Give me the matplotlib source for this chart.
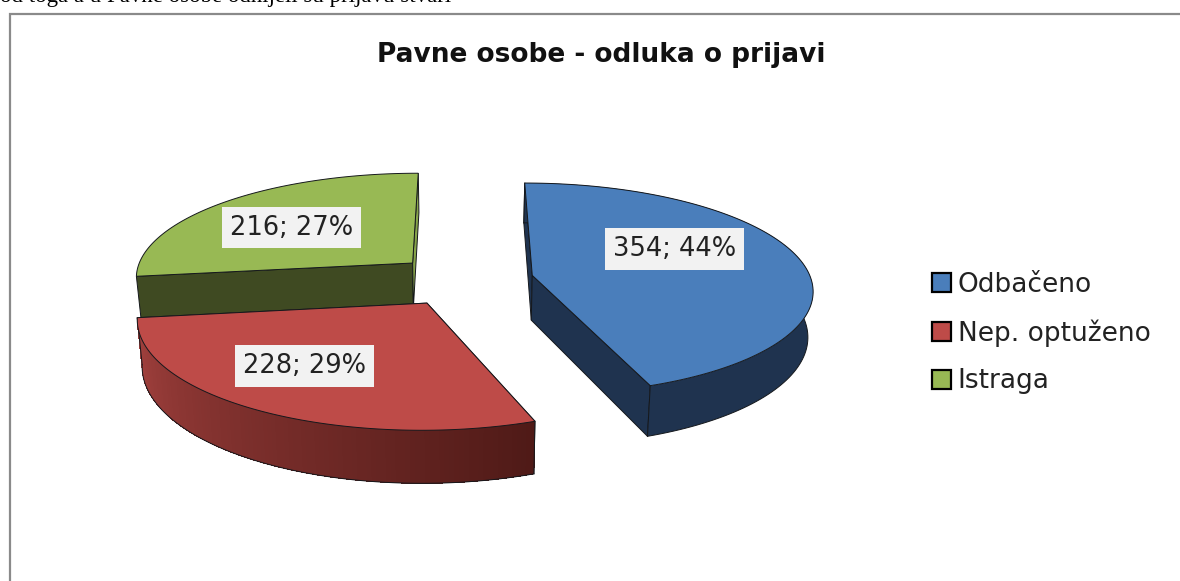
"""Exploded 3D pie: Pavne osobe - odluka o prijavi."""

import matplotlib

matplotlib.use("Agg")
import matplotlib.pyplot as plt
import numpy as np
from matplotlib.collections import PolyCollection
from matplotlib.colors import to_rgb
from matplotlib.patches import Patch, Polygon

categories = ["Odbačeno", "Nep. optuženo", "Istraga"]
values = [354, 228, 216]
percents = [44, 29, 27]
title = "Pavne osobe - odluka o prijavi"
top_text = "od toga a u Pavne osobe odnijeli su prijavu stvari"

top_colors = ["#4a7ebb", "#be4b48", "#98b954"]
wall_colors = ["#1f334f", "#7a2f2d", "#3f4a22"]
start_face_colors = ["#1f334f", "#7a2f2d", "#3f4a22"]
end_face_colors = ["#1f334f", "#7a2f2d", "#86a34a"]
label_centers = [(674.5, 249), (304.5, 366), (291.5, 227.5)]

# projection of the unit disc into figure pixels
VX, VY = 464.0, 280.0
SX, SY = 279.0, 105.0
PERSP = 0.125
EXPLODE = 0.25
DEPTH = 45.0
LINE = "#15181c"


def project(wx, wy, low=False):
    s = 1.0 / (1.0 + PERSP * wy)
    x = SX * wx * s
    y = -SY * wy * s
    if low:
        return VX + x * 0.985, VY + y + DEPTH * s
    return VX + x, VY + y


def slice_points(start, end, low=False, n=120):
    t = np.radians(np.linspace(start, end, n))
    mid = np.radians((start + end) / 2.0)
    ox, oy = EXPLODE * np.sin(mid), EXPLODE * np.cos(mid)
    arc = project(ox + np.sin(t), oy + np.cos(t), low)
    apex = project(ox, oy, low)
    return np.array(apex), np.column_stack(arc)


fig = plt.figure(figsize=(11.8, 5.81), dpi=100)
ax = fig.add_axes([0, 0, 1, 1])
ax.set_xlim(0, 1180)
ax.set_ylim(581, 0)
ax.axis("off")

ax.text(0, 2, top_text, family="Liberation Serif", fontsize=16.5, color="black", va="baseline")
ax.plot([10, 10, 1180], [581, 14, 14], color="#8a8a8a", lw=1.6, solid_joinstyle="miter")
ax.text(601, 55, title, family="DejaVu Sans", fontweight="bold", fontsize=19, ha="center", va="center", color="#111111")

edges = np.cumsum([0] + values) / sum(values) * 360.0
spans = list(zip(edges[:-1], edges[1:]))
edge_kw = {"edgecolor": LINE, "linewidth": 0.7}

# back to front: green, blue, red
z = 3
for i in [2, 0, 1]:
    start, end = spans[i]
    apex, arc = slice_points(start, end)
    apex_low, arc_low = slice_points(start, end, low=True)

    for j, colors in [(0, start_face_colors), (-1, end_face_colors)]:
        face = [apex, arc[j], arc_low[j], apex_low]
        ax.add_patch(Polygon(face, closed=True, facecolor=colors[i], zorder=z, **edge_kw))

    if i == 1:
        # red outer wall is light on the left, dark on the right
        quads = [[arc[k], arc[k + 1], arc_low[k + 1], arc_low[k]] for k in range(len(arc) - 1)]
        mix = np.linspace(0.0, 1.0, len(quads))[:, None]
        shades = mix * np.array(to_rgb("#a5423f")) + (1.0 - mix) * np.array(to_rgb("#4f1a17"))
        ax.add_collection(PolyCollection(quads, facecolors=shades, edgecolors="none", antialiased=False, zorder=z + 1))
    elif i == 0:
        band = np.vstack([arc, arc_low[::-1]])
        ax.add_patch(Polygon(band, closed=True, facecolor=wall_colors[i], edgecolor="none", zorder=z + 1))
    # the green outer wall faces away from the viewer
    if i != 2:
        ax.plot(arc_low[:, 0], arc_low[:, 1], color=LINE, lw=0.7, zorder=z + 2)
        for j in [0, -1]:
            ax.plot([arc[j, 0], arc_low[j, 0]], [arc[j, 1], arc_low[j, 1]], color=LINE, lw=0.7, zorder=z + 2)
    ax.add_patch(Polygon(np.vstack([apex, arc]), closed=True, facecolor=top_colors[i], zorder=z + 3, **edge_kw))
    z += 4

for value, pct, (cx, cy) in zip(values, percents, label_centers):
    ax.text(
        cx, cy, f"{value}; {pct}%", fontsize=18.5, ha="center", va="center", color="#222222", zorder=z,
        bbox={"boxstyle": "square,pad=0.3", "facecolor": "#f2f2f2", "edgecolor": "none"},
    )

handles = [Patch(facecolor=c, edgecolor="black", linewidth=1.6) for c in top_colors]
ax.legend(
    handles, categories, loc="center left", bbox_to_anchor=(919 / 1180, 1 - 333 / 581), frameon=False,
    fontsize=19, labelspacing=0.82, handlelength=0.72, handleheight=0.72, handletextpad=0.25,
    borderpad=0, labelcolor="#222222",
)

fig.savefig("out.png", dpi=100)
